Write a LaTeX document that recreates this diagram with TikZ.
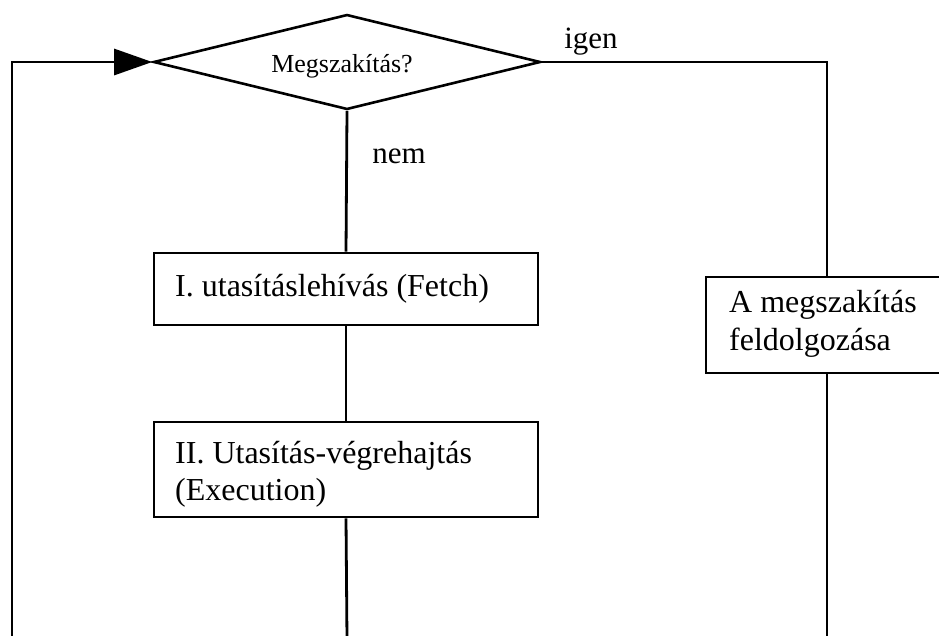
\documentclass[tikz,border=0pt]{standalone}
\usepackage{fontspec}
\setmainfont{Liberation Serif}
\usetikzlibrary{shapes.geometric,arrows.meta}
\begin{document}
\begin{tikzpicture}[x=1pt,y=-1pt,
  line/.style={line width=2.8pt},
  procbox/.style={draw,line width=2.8pt,rectangle,inner sep=0pt},
  decision/.style={draw,line width=2.6pt,diamond,inner sep=0pt,
    minimum width=387pt,minimum height=95pt},
  boxtext/.style={anchor=base west,inner sep=0pt,font=\fontsize{32}{38}\selectfont},
  lbl/.style={font=\fontsize{31}{37}\selectfont,anchor=base,inner sep=0pt}]
\useasboundingbox (0,0) rectangle (939,635);
\clip (0,0) rectangle (939,635);

% decision
\node[decision] (dec) at (347,62) {};
\node[anchor=base,inner sep=0pt,font=\fontsize{26}{30}\selectfont] (dectext) at (342,72) {Megszakítás?};

% process boxes
\node[procbox,minimum width=384pt,minimum height=72pt] (fetch) at (346,289) {};
\node[boxtext] (fetchtext) at (175,296) {I. utasításlehívás (Fetch)};

\node[procbox,minimum width=384pt,minimum height=95pt] (exec) at (346,469.5) {};
\node[boxtext] (exectext1) at (175,463) {II. Utasítás-végrehajtás};
\node[boxtext] (exectext2) at (175,500) {(Execution)};

\node[procbox,minimum width=242pt,minimum height=96pt] (intr) at (827,325) {};
\node[boxtext] (intrtext1) at (729,312) {A megszakítás};
\node[boxtext] (intrtext2) at (729,350) {feldolgozása};

% branch labels
\node[lbl] (igen) at (591,48) {igen};
\node[lbl] (nem) at (399,163) {nem};

% free ends at the lower edge
\coordinate (loopbot) at (12,640);
\coordinate (midbot) at (347,640);
\coordinate (rightbot) at (827,640);

% connectors
\draw[line] (dec.south) -- (fetch.north);
\draw[line] (fetch.south) -- (exec.north);
\draw[line] (exec.south) -- (midbot);
\draw[line] (dec.east) -| (intr.north);
\draw[line] (intr.south) -- (rightbot);
\draw[line,-{Triangle[length=38pt,width=26pt]}] (loopbot) |- (dec.west);
\end{tikzpicture}
\end{document}
